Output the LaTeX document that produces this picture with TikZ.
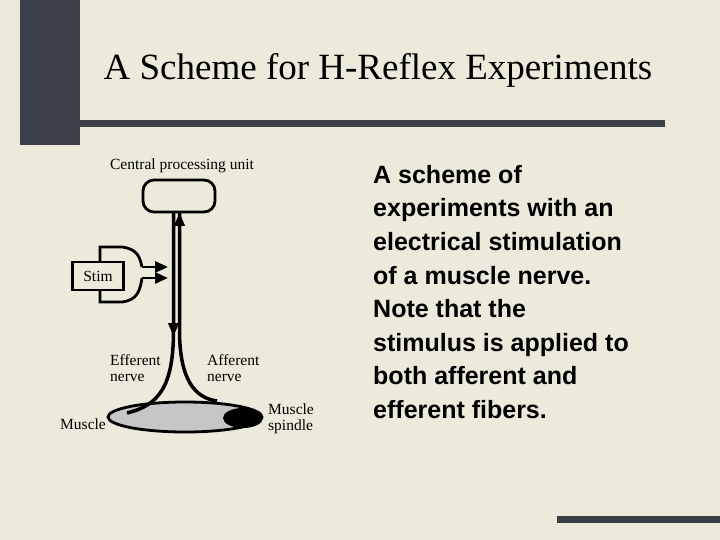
\documentclass[tikz,border=0pt]{standalone}
\usepackage{fontspec}
\setmainfont{Liberation Serif}
\newfontfamily\arialb{Liberation Sans}
\usetikzlibrary{arrows.meta}
\definecolor{bg}{HTML}{ECEADB}
\definecolor{bar}{HTML}{3B3F47}
\tikzset{lbl/.style={font=\fontsize{15.5}{16}\selectfont, align=left, inner sep=0pt},
 nerve/.style={line width=3.5pt},
 tip/.style={-{Triangle[length=13pt,width=11pt]}}}
\begin{document}
\begin{tikzpicture}[x=1pt,y=-1pt]
\fill[bg] (0,0) rectangle (720,540);
\useasboundingbox (0,0) rectangle (720,540);
\fill[bar] (20,0) rectangle (80,145);
\fill[bar] (20,120) rectangle (665,127);
\fill[bar] (557,516) rectangle (720,523);
\node[font=\fontsize{37}{40}\selectfont] (title) at (378,70) {A Scheme for H-Reflex Experiments};
\node[anchor=north west, align=left, font=\arialb\bfseries\fontsize{25}{33.6}\selectfont, inner sep=0pt] (txt) at (373,165) {A scheme of\\experiments with an\\electrical stimulation\\of a muscle nerve.\\Note that the\\stimulus is applied to\\both afferent and\\efferent fibers.};
% CPU
\node[draw, line width=2.8pt, rounded corners=11pt, minimum width=72pt, minimum height=32pt] (cpu) at (179,196) {};
\node[lbl] (cpul) at (182,166) {Central processing unit};
% muscle
\fill[gray!45, draw=black, line width=2.8pt] (185,417) ellipse [x radius=77, y radius=15];
\fill[black] (243,418) ellipse [x radius=20, y radius=10];
\coordinate (ml) at (127,413);
\coordinate (mr) at (217,401);
% nerves
\draw[nerve] (173.5,212) -- (173.5,330) .. controls (173.5,385) and (160,405) .. (ml);
\draw[nerve] (179.5,212) -- (179.5,330) .. controls (179.5,380) and (195,398) .. (mr);
\draw[tip] (179.5,242) -- (179.5,213);
\draw[tip] (173.5,310) -- (173.5,336);
% stim
\node[draw, line width=2.8pt, minimum width=51pt, minimum height=28pt, font=\fontsize{15.5}{16}\selectfont] (stim) at (98,276) {Stim};
\draw[line width=2.8pt] (100,262) -- (100,247) -- (122,247) .. controls (138,249) and (140,258) .. (142,267);
\draw[line width=2.8pt] (100,290) -- (100,302) -- (122,302) .. controls (138,300) and (140,290) .. (142,278);
\draw[line width=2.8pt, tip] (142,267) -- (168,267);
\draw[line width=2.8pt, tip] (142,278) -- (168,278);
% labels
\node[lbl, anchor=north west] (eff) at (110,354) {Efferent\\nerve};
\node[lbl, anchor=north west] (aff) at (207,354) {Afferent\\nerve};
\node[lbl, anchor=west] (mus) at (60,424) {Muscle};
\node[lbl, anchor=north west] (spi) at (268,404) {Muscle\\spindle};
\end{tikzpicture}
\end{document}
